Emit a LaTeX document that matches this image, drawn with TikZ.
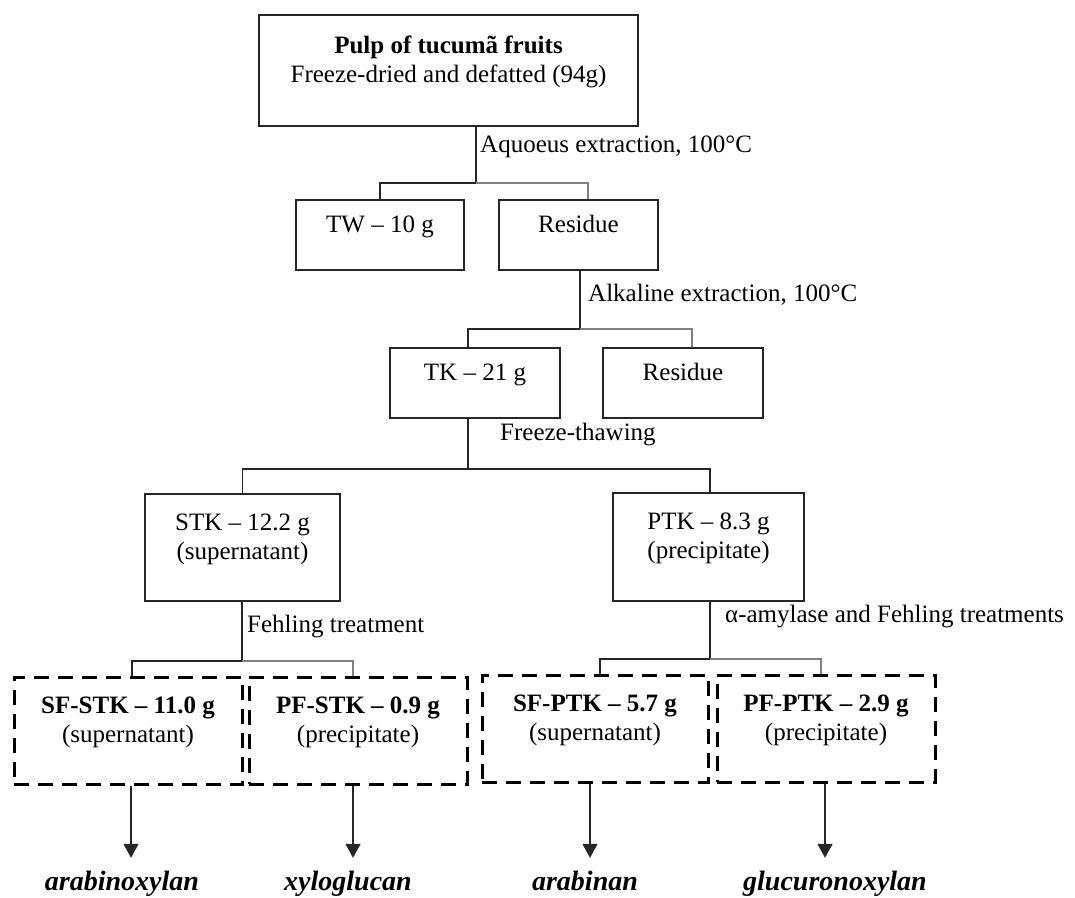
\documentclass[tikz,border=0pt]{standalone}
\usepackage{fontspec}
\setmainfont{Liberation Serif}
\usetikzlibrary{arrows.meta,calc}

\begin{document}
\begin{tikzpicture}[
  x=1pt, y=-1pt,
  font=\fontsize{25}{29}\selectfont,
  box/.style={draw=black!85, line width=1.5pt, align=center, inner sep=0pt,
    execute at end node={\rule[-22pt]{0pt}{22pt}}},
  dbox/.style={box, draw=black, line width=3pt, dash pattern=on 15pt off 9pt},
  link/.style={line width=1.5pt, draw=black!85},
  linkg/.style={line width=1.5pt, draw=black!50},
  yield/.style={-{Triangle[length=14pt,width=15pt]}, line width=1.5pt, draw=black!85, fill=black!85},
  lbl/.style={anchor=west, inner sep=0pt},
  prod/.style={font=\fontsize{28}{32}\selectfont\bfseries\itshape, anchor=base,
    text height=19pt, text depth=6pt, inner xsep=0pt, inner ysep=13pt}
]
\useasboundingbox (0,0) rectangle (1075,897);

% Starting material
\node[box, minimum width=379pt, minimum height=111pt] (pulp) at (448.5,70.5)
  {\textbf{Pulp of tucumã fruits}\\Freeze-dried and defatted (94g)};

% Aqueous step
\coordinate (j1) at (476,183);
\node[box, minimum width=168pt, minimum height=70pt] (tw) at (380,235) {TW – 10 g};
\node[box, minimum width=159pt, minimum height=70pt] (res1) at (578.5,235) {Residue};
\draw[link] (pulp.south -| j1) -- (j1) -| (tw.north);
\draw[linkg] (j1) -| ([xshift=9.5pt]res1.north);
\node[lbl] (aqueous) at (480,147) {Aquoeus extraction, 100°C};

% Alkaline step
\coordinate (j2) at (580,329);
\node[box, minimum width=170pt, minimum height=70pt] (tk) at (475,383) {TK – 21 g};
\node[box, minimum width=160pt, minimum height=70pt] (res2) at (683,383) {Residue};
\draw[link] (res1.south -| j2) -- (j2) -| ([xshift=-7pt]tk.north);
\draw[linkg] (j2) -| ([xshift=9pt]res2.north);
\node[lbl] (alkaline) at (588,295) {Alkaline extraction, 100°C};

% Freeze-thawing
\coordinate (j3) at (468,469);
\node[box, minimum width=195pt, minimum height=107pt] (stk) at (242.5,547.5)
  {STK – 12.2 g\\(supernatant)};
\node[box, minimum width=191pt, minimum height=108pt] (ptk) at (708.5,547)
  {PTK – 8.3 g\\(precipitate)};
\draw[link] (tk.south -| j3) -- (j3) -| (stk.north);
\draw[link] (j3) -| ([xshift=1.5pt]ptk.north);
\node[lbl] (thaw) at (500,435) {Freeze-thawing};

% Fehling treatment of STK
\coordinate (j4) at (242,661);
\node[dbox, minimum width=228pt, minimum height=107pt] (sfstk) at (128,730.5)
  {\textbf{SF-STK – 11.0 g}\\(supernatant)};
\node[dbox, minimum width=218pt, minimum height=107pt] (pfstk) at (358,730.5)
  {\textbf{PF-STK – 0.9 g}\\(precipitate)};
\draw[link] (stk.south -| j4) -- (j4) -| ([xshift=4pt]sfstk.north);
\draw[linkg] (j4) -| ([xshift=-5pt]pfstk.north);
\node[lbl] (fehling) at (247,627) {Fehling treatment};

% Amylase and Fehling treatment of PTK
\coordinate (j5) at (710,659);
\node[dbox, minimum width=226pt, minimum height=107pt] (sfptk) at (595,728.5)
  {\textbf{SF-PTK – 5.7 g}\\(supernatant)};
\node[dbox, minimum width=218pt, minimum height=107pt] (pfptk) at (826,728.5)
  {\textbf{PF-PTK – 2.9 g}\\(precipitate)};
\draw[link] (ptk.south -| j5) -- (j5) -| ([xshift=5pt]sfptk.north);
\draw[linkg] (j5) -| ([xshift=-5pt]pfptk.north);
\node[lbl] (amylase) at (725,617) {α-amylase and Fehling treatments};

% Polysaccharides
\node[prod] (arabx) at (122,890) {arabinoxylan};
\node[prod] (xylog) at (348,890) {xyloglucan};
\node[prod] (arabn) at (585,890) {arabinan};
\node[prod] (glucx) at (835,890) {glucuronoxylan};
\draw[yield] ([xshift=3pt]sfstk.south) -- ([xshift=3pt]sfstk.south |- arabx.north);
\draw[yield] ([xshift=-5pt]pfstk.south) -- ([xshift=-5pt]pfstk.south |- xylog.north);
\draw[yield] ([xshift=-5pt]sfptk.south) -- ([xshift=-5pt]sfptk.south |- arabn.north);
\draw[yield] ([xshift=-1pt]pfptk.south) -- ([xshift=-1pt]pfptk.south |- glucx.north);

\end{tikzpicture}
\end{document}
